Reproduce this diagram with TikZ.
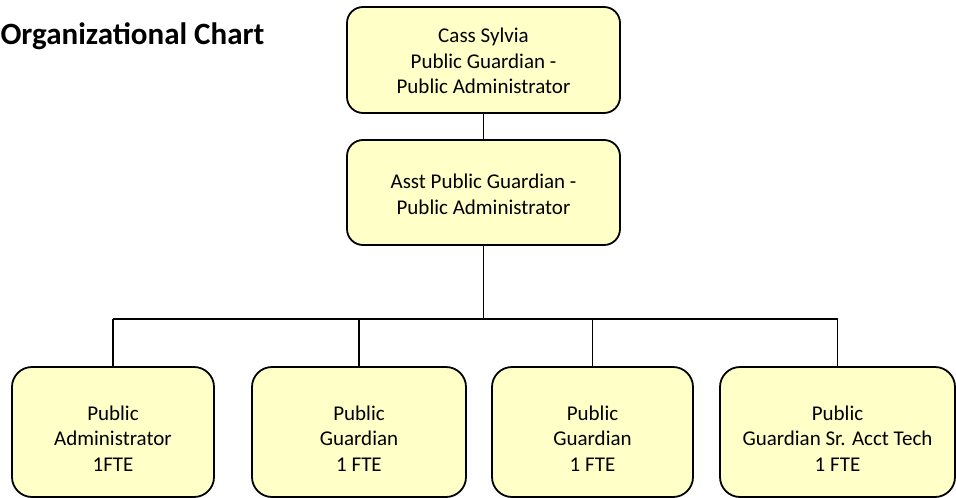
\documentclass[tikz,border=0pt]{standalone}
\usepackage{fontspec}
\setmainfont{Carlito}
\usepackage{tikz}
\usetikzlibrary{positioning,calc}
\usepackage{xcolor}
\definecolor{boxfill}{RGB}{255,255,200}
\newcommand{\toppad}[1]{\rule{0pt}{#1}}

\tikzset{
    orgbox/.style={draw=black,line width=1.8pt,fill=boxfill,rounded corners=16pt,
        align=center,inner sep=0pt,
        font=\fontsize{21}{25.5}\selectfont},
    staffbox/.style={orgbox,rounded corners=20pt,minimum height=130},
    link/.style={draw=black,line width=1.8pt}
}

\begin{document}
\begin{tikzpicture}[x=1pt,y=-1pt]
    \useasboundingbox (0,0) rectangle (956,498);
    \node[anchor=base west,font=\fontsize{31}{34}\selectfont\bfseries] (title) at (-3,44) {Organizational Chart};
    % top of the chart
    \node[orgbox,minimum width=273,minimum height=106] (chief) at (483.5,60)
        {\toppad{17pt}Cass Sylvia\\Public Guardian -\\Public Administrator};
    \node[orgbox,minimum width=273,minimum height=105] (asst) at (483.5,192.5)
        {\toppad{18pt}Asst Public Guardian -\\Public Administrator};
    % staff row
    \node[staffbox,minimum width=202] (padmin) at (113,432)
        {\toppad{27pt}Public\\Administrator\\1FTE};
    \node[staffbox,minimum width=214] (pguardA) at (359,432)
        {\toppad{27pt}Public\\Guardian\\1 FTE};
    \node[staffbox,minimum width=201] (pguardB) at (592.5,432)
        {\toppad{27pt}Public\\Guardian\\1 FTE};
    \node[staffbox,minimum width=235] (acct) at (837.5,432)
        {\toppad{27pt}Public\\Guardian Sr. Acct Tech\\1 FTE};
    \coordinate (bus) at (480,319);
    \draw[link] (chief.south) -- (asst.north);
    \draw[link] (asst.south) -- (asst.south |- bus);
    \draw[link] (padmin.north |- bus) -- (acct.north |- bus);
    \foreach \n in {padmin,pguardA,pguardB,acct}
        \draw[link] (\n.north |- bus) -- (\n.north);
\end{tikzpicture}
\end{document}
